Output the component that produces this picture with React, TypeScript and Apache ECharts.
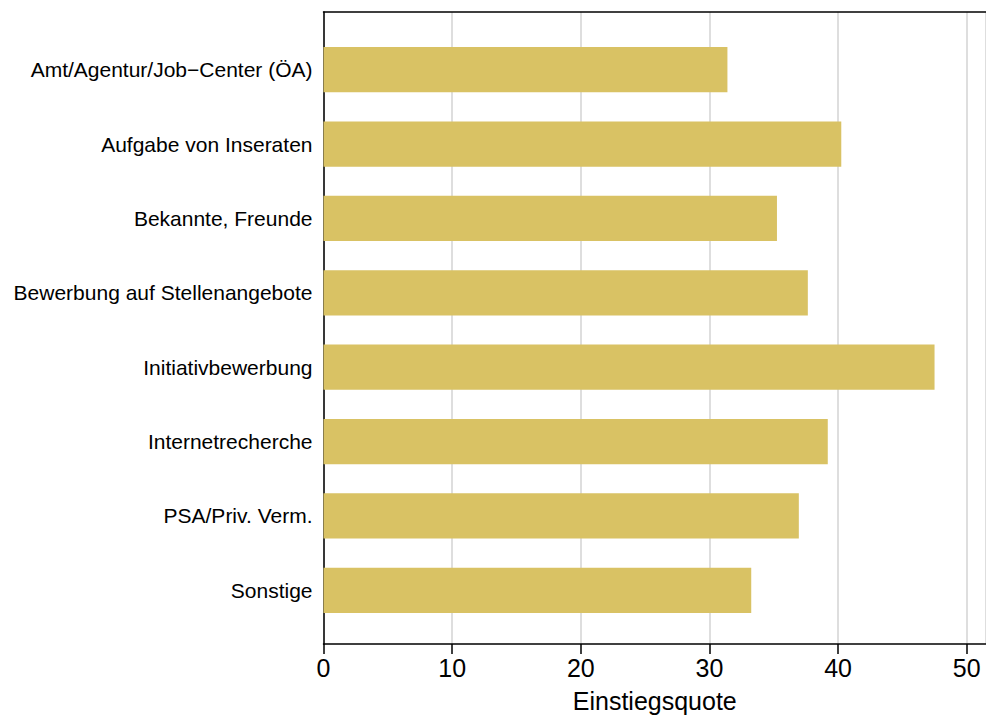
import React, { useEffect, useRef } from "react";
import * as echarts from "echarts";

const categories = [
  "Amt/Agentur/Job\u2212Center (ÖA)",
  "Aufgabe von Inseraten",
  "Bekannte, Freunde",
  "Bewerbung auf Stellenangebote",
  "Initiativbewerbung",
  "Internetrecherche",
  "PSA/Priv. Verm.",
  "Sonstige",
];
const values = [31.4, 40.25, 35.25, 37.65, 47.5, 39.2, 36.95, 33.25];
const axisTitle = "Einstiegsquote";

const X_MAX = 51.5;
const FONT = "'Liberation Sans', Arial, Helvetica, sans-serif";

export default function App() {
  const ref = useRef<HTMLDivElement>(null);
  useEffect(() => {
    if (!ref.current) return;
    const chart = echarts.init(ref.current, undefined, { renderer: "svg" });
    chart.setOption({
      animation: false,
      backgroundColor: "#ffffff",
      textStyle: { fontFamily: FONT },
      grid: [
        { left: 323.5, right: 0, top: 32.5, height: 595 },
        { left: 323.5, right: 0, top: 12, height: 636 },
      ],
      xAxis: [
        { gridIndex: 0, type: "value", min: 0, max: X_MAX, show: false },
        {
          gridIndex: 1,
          type: "value",
          min: 0,
          max: X_MAX,
          interval: 10,
          position: "bottom",
          axisLine: { show: true, lineStyle: { color: "#000", width: 1.5 } },
          axisTick: { show: true, length: 10, lineStyle: { color: "#000", width: 1.5 } },
          axisLabel: {
            show: true,
            color: "#000",
            fontSize: 25,
            fontFamily: FONT,
            margin: 11,
            showMaxLabel: false,
            formatter: (v: number) => (v % 10 === 0 ? String(v) : ""),
          },
          splitLine: { show: true, lineStyle: { color: "#dedede", width: 2 } },
          name: axisTitle,
          nameLocation: "middle",
          nameGap: 44,
          nameTextStyle: { color: "#000", fontSize: 25, fontFamily: FONT },
        },
        {
          gridIndex: 1,
          type: "value",
          min: 0,
          max: X_MAX,
          position: "top",
          axisLine: { show: true, lineStyle: { color: "#000", width: 1.5 } },
          axisTick: { show: false },
          axisLabel: { show: false },
          splitLine: { show: false },
        },
      ],
      yAxis: [
        {
          gridIndex: 0,
          type: "category",
          data: categories,
          inverse: true,
          axisLine: { show: false },
          axisTick: { show: false },
          axisLabel: { color: "#000", fontSize: 21, fontFamily: FONT, margin: 11 },
          splitLine: { show: false },
        },
        {
          gridIndex: 1,
          type: "value",
          min: 0,
          max: 1,
          position: "left",
          axisLine: { show: true, onZero: false, lineStyle: { color: "#000", width: 1.5 } },
          axisTick: { show: false },
          axisLabel: { show: false },
          splitLine: { show: false },
        },
      ],
      series: [
        {
          type: "bar",
          xAxisIndex: 0,
          yAxisIndex: 0,
          data: values,
          barWidth: "61%",
          itemStyle: { color: "#d9c264" },
        },
      ],
    });
    return () => chart.dispose();
  }, []);
  return (
    <div
      ref={ref}
      style={{ position: "fixed", left: 0, top: 0, width: 986, height: 718 }}
    />
  );
}
